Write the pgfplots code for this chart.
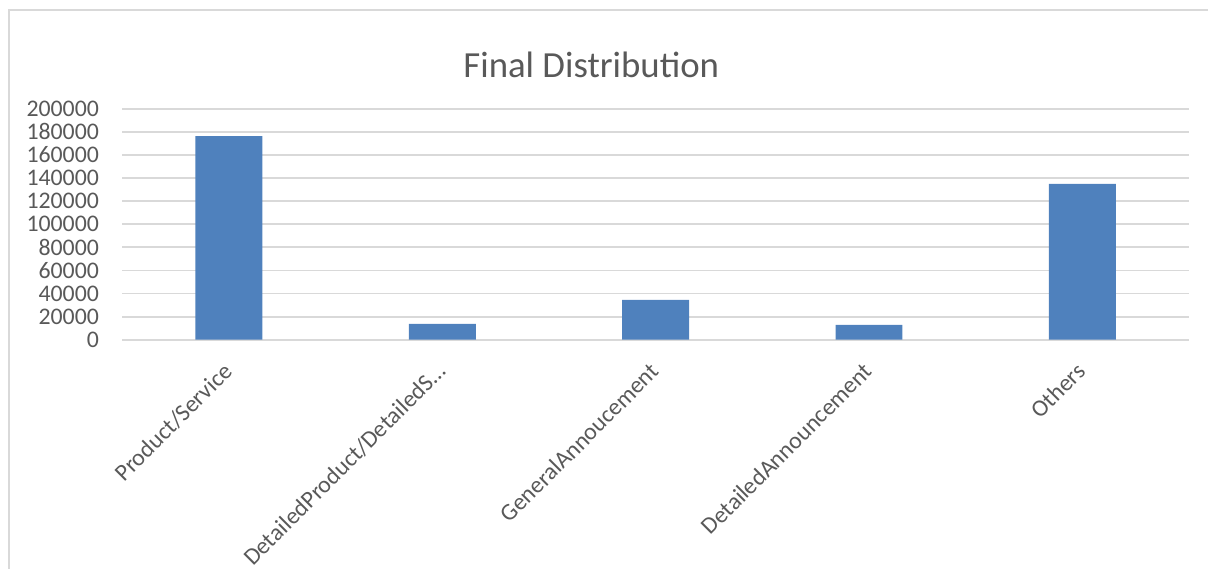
\documentclass[border=0pt]{standalone}
\usepackage{pgfplots}
\pgfplotsset{compat=1.18}
\usepackage{fontspec}
\setmainfont{Carlito}
\definecolor{barblue}{HTML}{4F81BD}
\definecolor{gridgray}{HTML}{D9D9D9}
\definecolor{txt}{HTML}{595959}
\begin{document}
\begin{tikzpicture}[x=0.5pt,y=0.5pt]
\useasboundingbox (0,0) rectangle (1208,568);
\draw[gridgray, line width=0.75pt] (9,-20) -- (9,558) -- (1230,558);
\node[anchor=base, text=txt, font=\fontsize{18.4}{22}\selectfont, inner sep=0pt] at (591.3,490) {Final Distribution};
\begin{axis}[
 at={(61.15pt,114.15pt)}, anchor=south west,
 scale only axis, width=533.35pt, height=115.5pt,
 xmin=-0.5, xmax=4.5, ymin=0, ymax=200000,
 ytick={0,20000,...,200000},
 xtick={0,1,2,3,4},
 xticklabels={Product/Service, DetailedProduct/DetailedS…, GeneralAnnoucement, DetailedAnnouncement, Others},
 scaled y ticks=false,
 /pgf/number format/fixed,
 /pgf/number format/precision=0,
 /pgf/number format/1000 sep={},
 /pgf/number format/assume math mode=true,
 major tick length=0pt,
 axis line style={draw=none},
 ymajorgrids, major grid style={gridgray, line width=0.9pt},
 tick label style={font=\fontsize{11.9}{14}\selectfont, text=txt},
 yticklabel style={anchor=east, inner sep=0pt, xshift=-11.5pt},
 xticklabel style={rotate=45, anchor=north east, inner sep=0pt, yshift=-5pt, xshift=-10pt},
 ybar, bar width=0.314, bar shift=0pt,
 clip=false,
]
\addplot[fill=barblue, draw=none] coordinates {(0,176200) (1,13650) (2,34500) (3,12800) (4,134900)};
\end{axis}
\end{tikzpicture}
\end{document}
